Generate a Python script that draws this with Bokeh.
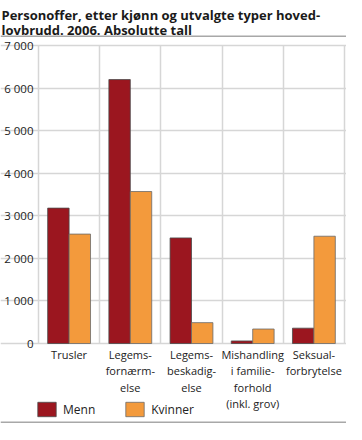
from bokeh.plotting import figure
from bokeh.models import (FixedTicker, Legend, LegendItem, Label, BoxAnnotation,
                          ColumnDataSource, Range1d)
from bokeh.embed import file_html
from bokeh.resources import INLINE

categories = ["Trusler", "Legems-\nfornærm-\nelse", "Legems-\nbeskadig-\nelse",
              "Mishandling\ni familie-\nforhold\n(inkl. grov)", "Seksual-\nforbrytelse"]
menn = [3180, 6200, 2480, 60, 360]
kvinner = [2570, 3570, 490, 340, 2520]
y_ticks = [0, 1000, 2000, 3000, 4000, 5000, 6000, 7000]
y_tick_labels = ["0", "1 000", "2 000", "3 000", "4 000", "5 000", "6 000", "7 000"]
series_names = ["Menn", "Kvinner"]
title_lines = ["Personoffer, etter kjønn og utvalgte typer hoved-",
               "lovbrudd. 2006. Absolutte tall"]

RED = "#9b161f"
ORANGE = "#f39a3c"
GRID = "#d6d6d6"
RULE = "#a8a8a8"
FONT = "Open Sans"

# canvas layout (pixels)
W, H = 346, 424
PL, PR = 38, 344       # plot area left / right
PT, PB = 45, 343       # plot area top (max tick) / bottom (zero)

n = len(categories)
ymax = y_ticks[-1]
xs = (PR - PL) / n             # px per category
ys = (PB - PT) / ymax          # px per unit
x_range = Range1d(-PL / xs, n + (W - PR) / xs)
y_range = Range1d(-(H - PB) / ys, ymax + PT / ys)

centers = [i + 0.5 for i in range(n)]
bw = 0.35
src = ColumnDataSource(dict(
    xm=[c - bw / 2 for c in centers], xk=[c + bw / 2 for c in centers],
    menn=menn, kvinner=kvinner))

p = figure(width=W, height=H, output_backend="svg", toolbar_location=None,
           x_range=x_range, y_range=y_range, min_border=0)
p.outline_line_color = None

r1 = p.vbar(x="xm", top="menn", width=bw, source=src, fill_color=RED,
            line_color="#4a4a4a", line_width=0.8)
r2 = p.vbar(x="xk", top="kvinner", width=bw, source=src, fill_color=ORANGE,
            line_color="#6a6a6a", line_width=0.8)

# y axis drawn at x = 0
p.yaxis.fixed_location = 0
p.yaxis.ticker = FixedTicker(ticks=y_ticks)
p.yaxis.major_label_overrides = {tk: lb for tk, lb in zip(y_ticks, y_tick_labels)}
p.yaxis.axis_line_color = None
p.yaxis.major_tick_line_color = None
p.yaxis.minor_tick_line_color = None
p.yaxis.major_tick_out = 0
p.yaxis.major_tick_in = 0
p.yaxis.major_label_standoff = 5
p.yaxis.major_label_text_font = FONT
p.yaxis.major_label_text_font_size = "11.5px"
p.yaxis.major_label_text_color = "#222222"

# x axis drawn at y = 0
p.xaxis.fixed_location = 0
p.xaxis.ticker = FixedTicker(ticks=centers)
p.xaxis.major_label_overrides = {c: lb for c, lb in zip(centers, categories)}
p.xaxis.axis_line_color = None
p.xaxis.major_tick_line_color = None
p.xaxis.minor_tick_line_color = None
p.xaxis.major_tick_out = 0
p.xaxis.major_tick_in = 0
p.xaxis.major_label_standoff = 3
p.xaxis.major_label_text_font = FONT
p.xaxis.major_label_text_font_size = "11px"
p.xaxis.major_label_text_color = "#222222"
p.xaxis.major_label_text_line_height = 1.1

p.ygrid.grid_line_color = GRID
p.ygrid.grid_line_width = 1.5
p.ygrid.bounds = (0, n)
p.ygrid.ticker = FixedTicker(ticks=y_ticks)
p.xgrid.ticker = FixedTicker(ticks=list(range(0, n + 1)))
p.xgrid.grid_line_color = GRID
p.xgrid.grid_line_width = 1.5
p.xgrid.cross_bounds = (0, ymax)

legend = Legend(items=[LegendItem(label=series_names[0], renderers=[r1]),
                       LegendItem(label=series_names[1], renderers=[r2])],
                orientation="horizontal", location=(PL - 3, H - 418),
                glyph_width=23, glyph_height=18, spacing=28, padding=0,
                margin=0, label_standoff=5, border_line_color=None,
                background_fill_alpha=0)
legend.label_text_font = FONT
legend.label_text_font_size = "12px"
legend.label_text_color = "#222222"
p.add_layout(legend, "center")

for i, t in enumerate(title_lines):
    p.add_layout(Label(x=1, y=14 + i * 15, x_units="canvas", y_units="canvas",
                       text=t, text_font=FONT, text_font_style="bold",
                       text_font_size="13px", text_color="#1a1a1a",
                       text_baseline="alphabetic"))

for top in (35, 421):
    p.add_layout(BoxAnnotation(left=0, right=W, top=top, bottom=top + 1.5,
                               left_units="canvas", right_units="canvas",
                               top_units="canvas", bottom_units="canvas",
                               fill_color=RULE, fill_alpha=1, line_color=None))

open("out.html", "w").write(file_html(p, INLINE))
